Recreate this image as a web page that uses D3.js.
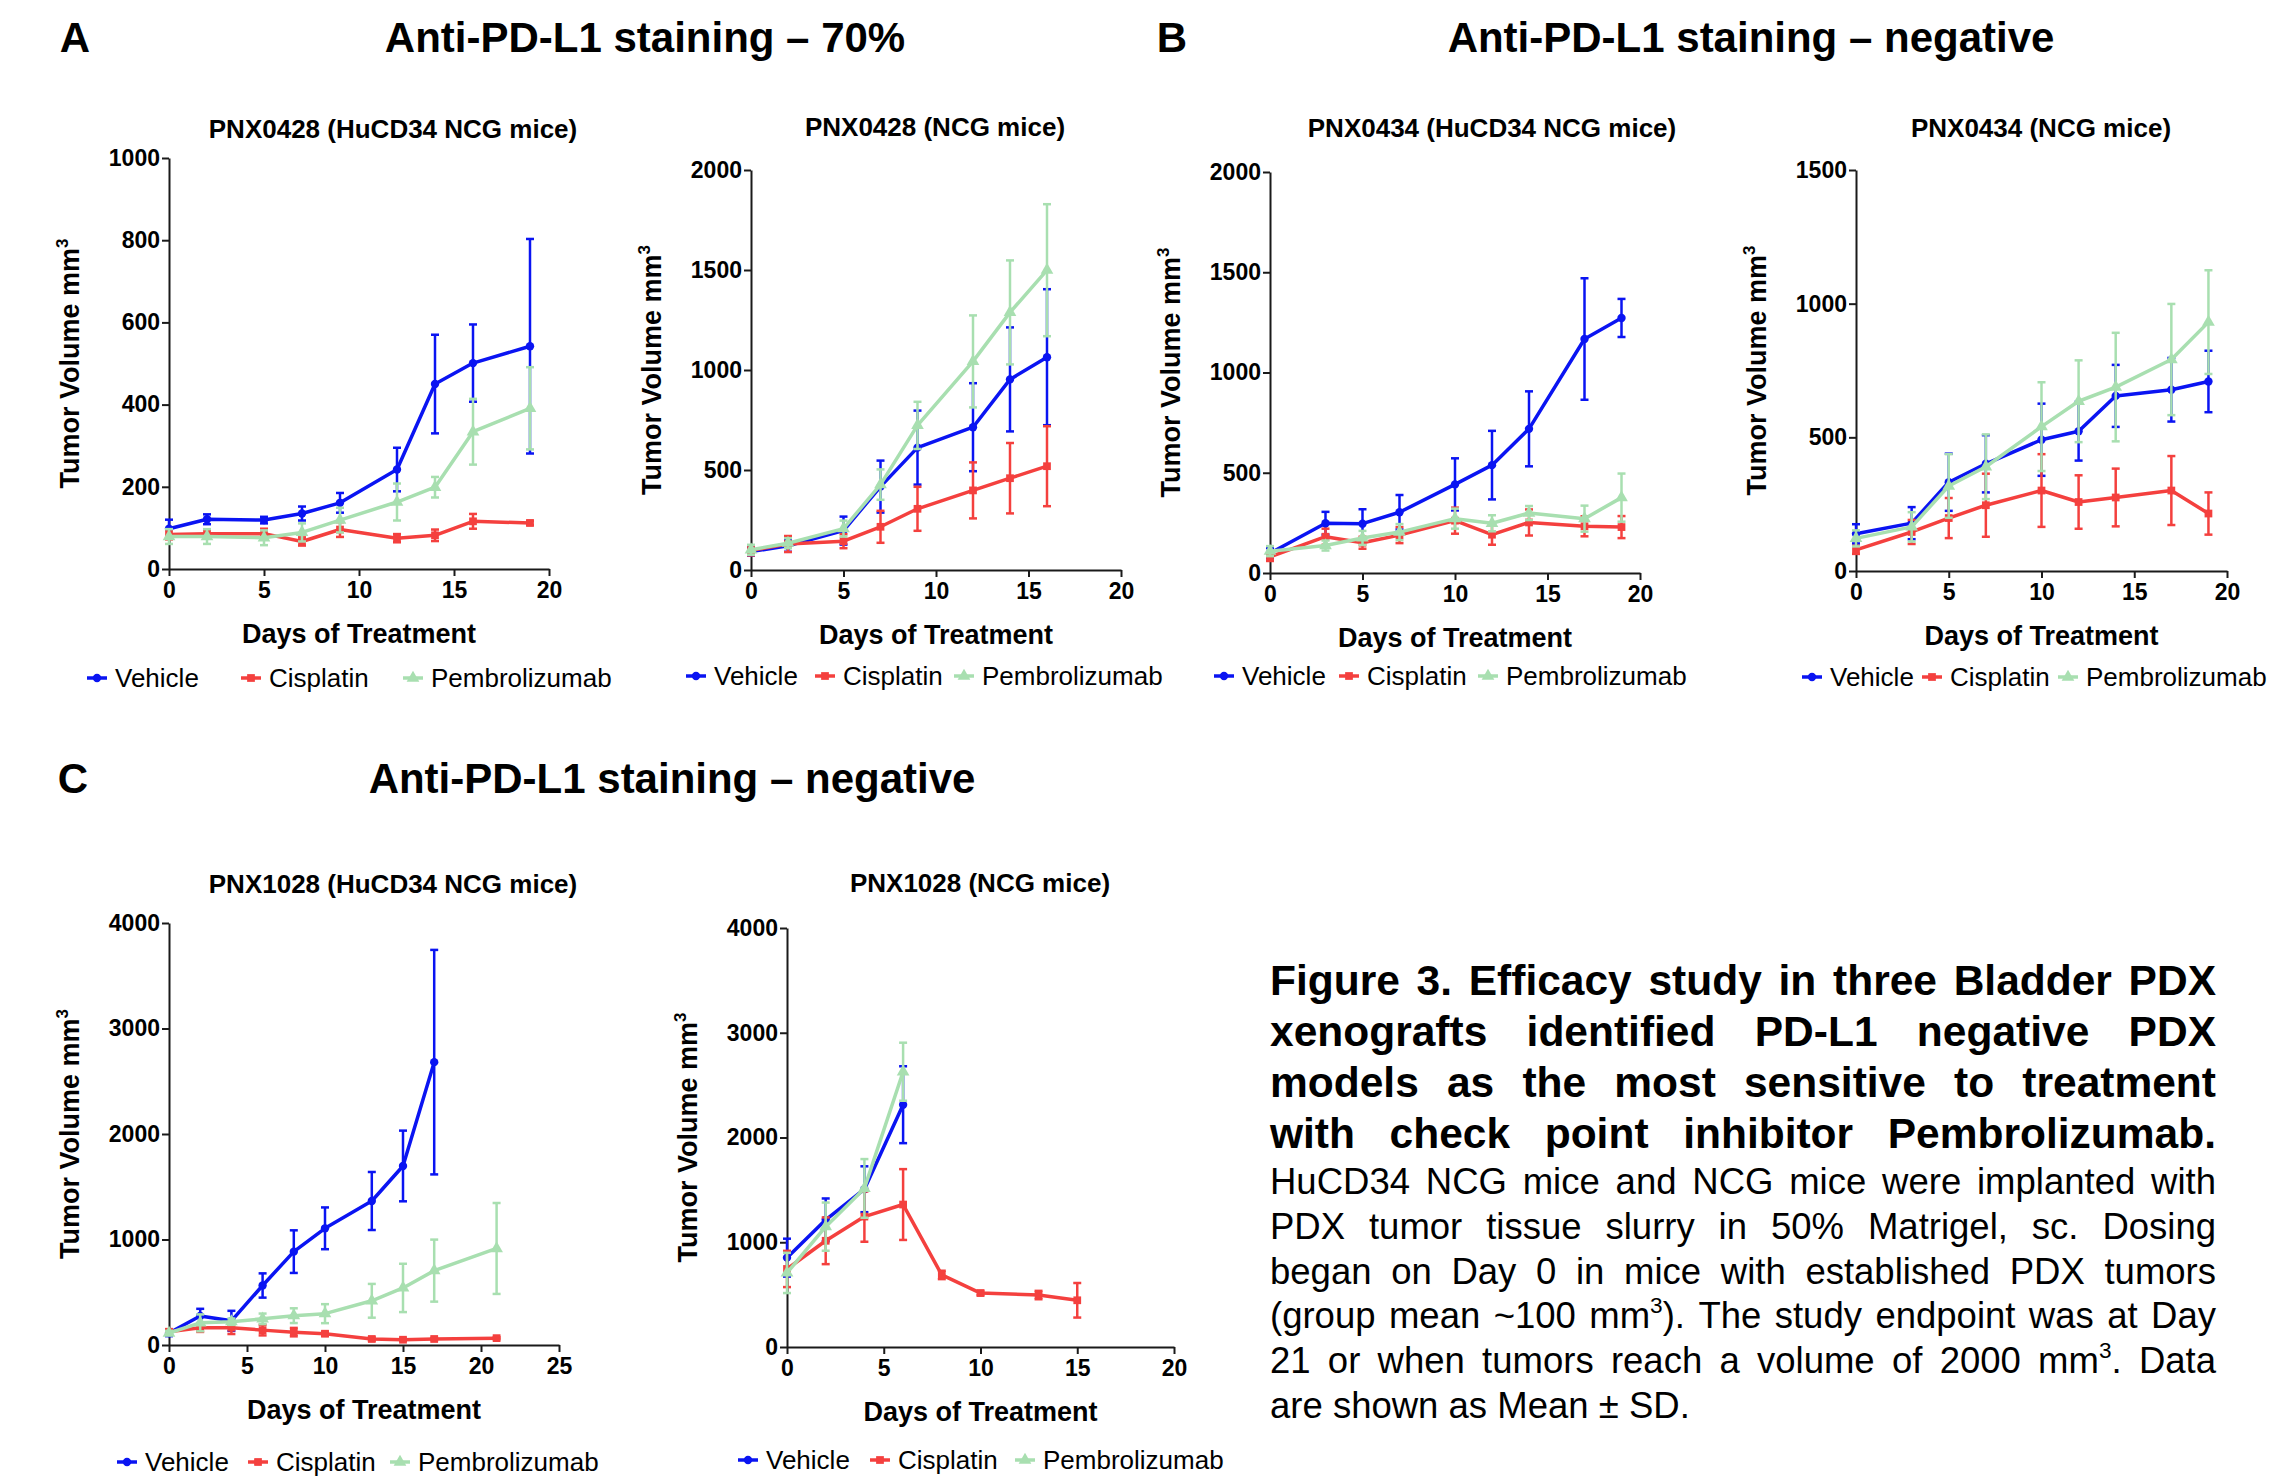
<!DOCTYPE html>
<html>
<head>
<meta charset="utf-8">
<script src="https://cdn.jsdelivr.net/npm/d3@7"></script>
<style>
  body { margin: 0; background: #fff; }
  svg { display: block; font-family: "Liberation Sans", Arial, Helvetica, sans-serif; }
  .axis path, .axis line { stroke: #1a1a1a; stroke-width: 2; }
  .axis text { font-size: 23px; font-weight: bold; fill: #000; }
</style>
</head>
<body>
<div id="fig"></div>
<script>
// series names and colours
var seriesNames = ["Vehicle", "Cisplatin", "Pembrolizumab"];
var seriesColors = ["#0a14f2", "#f4403e", "#a8dfb0"];

// A - PNX0428 (HuCD34 NCG mice)
var a1Days = [0, 2, 5, 7, 9, 12, 14, 16, 19];
var a1VehMean = [98, 121, 119, 135, 161, 242, 450, 501, 542];
var a1VehSd = [22, 12, 8, 17, 24, 53, 120, 94, 261];
var a1CisMean = [84, 86, 86, 67, 96, 75, 82, 116, 112];
var a1CisSd = [12, 10, 12, 10, 18, 10, 14, 18, 5];
var a1PemMean = [79, 79, 76, 89, 119, 163, 199, 334, 391];
var a1PemSd = [18, 18, 18, 22, 30, 45, 25, 80, 100];

// A - PNX0428 (NCG mice)
var a2Days = [0, 2, 5, 7, 9, 12, 14, 16];
var a2VehMean = [92, 121, 197, 417, 612, 714, 953, 1064];
var a2VehSd = [20, 30, 70, 130, 185, 220, 260, 340];
var a2CisMean = [98, 130, 144, 216, 306, 398, 459, 519];
var a2CisSd = [25, 40, 35, 80, 110, 140, 176, 200];
var a2PemMean = [101, 134, 207, 427, 723, 1043, 1288, 1499];
var a2PemSd = [25, 25, 40, 76, 118, 230, 260, 330];

// B - PNX0434 (HuCD34 NCG mice)
var b1Days = [0, 3, 5, 7, 10, 12, 14, 17, 19];
var b1VehMean = [99, 248, 246, 303, 442, 538, 719, 1167, 1272];
var b1VehSd = [25, 57, 72, 86, 130, 171, 187, 303, 95];
var b1CisMean = [80, 181, 151, 189, 261, 191, 252, 233, 229];
var b1CisSd = [20, 40, 30, 40, 65, 50, 65, 50, 55];
var b1PemMean = [109, 137, 175, 204, 271, 248, 299, 271, 376];
var b1PemSd = [25, 25, 35, 40, 50, 40, 35, 65, 120];

// B - PNX0434 (NCG mice)
var b2Days = [0, 3, 5, 7, 10, 12, 14, 17, 19];
var b2VehMean = [139, 179, 332, 401, 491, 523, 655, 678, 709];
var b2VehSd = [36, 60, 107, 107, 135, 110, 116, 119, 115];
var b2CisMean = [79, 146, 198, 246, 301, 258, 275, 301, 215];
var b2CisSd = [15, 45, 75, 118, 136, 100, 108, 129, 79];
var b2PemMean = [122, 165, 318, 390, 540, 635, 688, 791, 931];
var b2PemSd = [30, 55, 119, 121, 166, 153, 203, 208, 194];

// C - PNX1028 (HuCD34 NCG mice)
var c1Days = [0, 2, 4, 6, 8, 10, 13, 15, 17, 21];
var c1VehMean = [114, 275, 229, 564, 885, 1106, 1365, 1697, 2681];
var c1VehSd = [30, 68, 95, 115, 202, 198, 275, 335, 1064];
var c1CisMean = [126, 164, 164, 141, 122, 107, 57, 50, 57, 65];
var c1CisSd = [20, 40, 60, 50, 40, 20, 15, 10, 10, 10];
var c1PemMean = [114, 210, 221, 248, 278, 297, 419, 541, 705, 915];
var c1PemSd = [20, 80, 30, 50, 70, 90, 160, 229, 294, 431];

// C - PNX1028 (NCG mice)
var c2Days = [0, 2, 4, 6, 8, 10, 13, 15];
var c2VehMean = [853, 1214, 1506, 2313];
var c2VehSd = [181, 204, 219, 367];
var c2CisMean = [745, 1014, 1245, 1360, 688, 515, 496, 446];
var c2CisSd = [173, 223, 240, 338, 40, 20, 40, 165];
var c2PemMean = [707, 1149, 1514, 2628];
var c2PemSd = [192, 230, 280, 277];

// headings and caption
var sectionLetters = ["A", "B", "C"];
var sectionTitles = ["Anti-PD-L1 staining \u2013 70%", "Anti-PD-L1 staining \u2013 negative", "Anti-PD-L1 staining \u2013 negative"];
var captionBold = [
  "Figure 3. Efficacy study in three Bladder PDX",
  "xenografts identified PD-L1 negative PDX",
  "models as the most sensitive to treatment",
  "with check point inhibitor Pembrolizumab."
];
var captionRegular = [
  "HuCD34 NCG mice and NCG mice were implanted with",
  "PDX tumor tissue slurry in 50% Matrigel, sc. Dosing",
  "began on Day 0 in mice with established PDX tumors",
  "(group mean ~100 mm^3). The study endpoint was at Day",
  "21 or when tumors reach a volume of 2000 mm^3. Data",
  "are shown as Mean \u00b1 SD."
];

var width = 2273, height = 1481;

var svg = d3.select("#fig").append("svg")
  .attr("width", width)
  .attr("height", height);

// panel settings (layout only)
var panels = [
  {title: "PNX0428 (HuCD34 NCG mice)", xMax: 20, yMax: 1000, yStep: 200,
   box: {left: 169, right: 549, top: 158, bottom: 569}, titleX: 393, titleY: 138,
   legendX: [87, 241, 403], legendY: 678,
   series: [[a1Days, a1VehMean, a1VehSd], [a1Days, a1CisMean, a1CisSd], [a1Days, a1PemMean, a1PemSd]]},
  {title: "PNX0428 (NCG mice)", xMax: 20, yMax: 2000, yStep: 500,
   box: {left: 751, right: 1121, top: 170, bottom: 570}, titleX: 935, titleY: 136,
   legendX: [686, 815, 954], legendY: 676,
   series: [[a2Days, a2VehMean, a2VehSd], [a2Days, a2CisMean, a2CisSd], [a2Days, a2PemMean, a2PemSd]]},
  {title: "PNX0434 (HuCD34 NCG mice)", xMax: 20, yMax: 2000, yStep: 500,
   box: {left: 1270, right: 1640, top: 172, bottom: 573}, titleX: 1492, titleY: 137,
   legendX: [1214, 1339, 1478], legendY: 676,
   series: [[b1Days, b1VehMean, b1VehSd], [b1Days, b1CisMean, b1CisSd], [b1Days, b1PemMean, b1PemSd]]},
  {title: "PNX0434 (NCG mice)", xMax: 20, yMax: 1500, yStep: 500,
   box: {left: 1856, right: 2227, top: 170, bottom: 571}, titleX: 2041, titleY: 137,
   legendX: [1802, 1922, 2058], legendY: 677,
   series: [[b2Days, b2VehMean, b2VehSd], [b2Days, b2CisMean, b2CisSd], [b2Days, b2PemMean, b2PemSd]]},
  {title: "PNX1028 (HuCD34 NCG mice)", xMax: 25, yMax: 4000, yStep: 1000,
   box: {left: 169, right: 559, top: 923, bottom: 1345}, titleX: 393, titleY: 893,
   legendX: [117, 248, 390], legendY: 1462,
   series: [[c1Days, c1VehMean, c1VehSd], [c1Days, c1CisMean, c1CisSd], [c1Days, c1PemMean, c1PemSd]]},
  {title: "PNX1028 (NCG mice)", xMax: 20, yMax: 4000, yStep: 1000,
   box: {left: 787, right: 1174, top: 928, bottom: 1347}, titleX: 980, titleY: 892,
   legendX: [738, 870, 1015], legendY: 1460,
   series: [[c2Days, c2VehMean, c2VehSd], [c2Days, c2CisMean, c2CisSd], [c2Days, c2PemMean, c2PemSd]]}
];

// marker shapes: circle, square, triangle
var symbolTypes = [d3.symbolCircle, d3.symbolSquare, d3.symbolTriangle];
var symbolSizes = [55, 60, 70];

function drawMarker(g, i, cx, cy) {
  g.append("path")
    .attr("d", d3.symbol().type(symbolTypes[i]).size(symbolSizes[i])())
    .attr("transform", "translate(" + cx + "," + cy + ")")
    .attr("fill", seriesColors[i]);
}

panels.forEach(function(p) {
  var b = p.box;
  var x = d3.scaleLinear().domain([0, p.xMax]).range([b.left, b.right]);
  var y = d3.scaleLinear().domain([0, p.yMax]).range([b.bottom, b.top]);
  var g = svg.append("g");

  // axes
  g.append("g")
    .attr("class", "axis")
    .attr("transform", "translate(0," + b.bottom + ")")
    .call(d3.axisBottom(x).tickValues(d3.range(0, p.xMax + 1, 5)).tickFormat(d3.format("d"))
      .tickSize(7).tickSizeOuter(0).tickPadding(6));

  g.append("g")
    .attr("class", "axis")
    .attr("transform", "translate(" + b.left + ",0)")
    .call(d3.axisLeft(y).tickValues(d3.range(0, p.yMax + 1, p.yStep)).tickFormat(d3.format("d"))
      .tickSize(7).tickSizeOuter(0).tickPadding(2));

  // titles
  g.append("text")
    .attr("x", p.titleX).attr("y", p.titleY)
    .attr("text-anchor", "middle")
    .style("font-size", "26px").style("font-weight", "bold")
    .text(p.title);

  g.append("text")
    .attr("x", (b.left + b.right) / 2).attr("y", b.bottom + 74)
    .attr("text-anchor", "middle")
    .style("font-size", "27px").style("font-weight", "bold")
    .text("Days of Treatment");

  var yt = g.append("text")
    .attr("transform", "translate(" + (b.left - 90) + "," + ((b.top + b.bottom) / 2) + ") rotate(-90)")
    .attr("text-anchor", "middle")
    .style("font-size", "27px").style("font-weight", "bold");
  yt.append("tspan").text("Tumor Volume mm");
  yt.append("tspan").attr("dy", -11).style("font-size", "17px").text("3");

  // data series
  p.series.forEach(function(s, i) {
    var pts = s[1].map(function(m, k) { return {day: s[0][k], mean: m, sd: s[2][k]}; });
    var col = seriesColors[i];
    var sg = g.append("g");

    // error bars
    pts.forEach(function(d) {
      var cx = x(d.day);
      var yHi = y(d.mean + d.sd), yLo = y(Math.max(0, d.mean - d.sd));
      sg.append("line").attr("x1", cx).attr("x2", cx).attr("y1", yHi).attr("y2", yLo)
        .attr("stroke", col).attr("stroke-width", 2.5);
      [yHi, yLo].forEach(function(yy) {
        sg.append("line").attr("x1", cx - 4).attr("x2", cx + 4).attr("y1", yy).attr("y2", yy)
          .attr("stroke", col).attr("stroke-width", 2.5);
      });
    });

    var line = d3.line()
      .x(function(d) { return x(d.day); })
      .y(function(d) { return y(d.mean); });

    sg.append("path")
      .datum(pts)
      .attr("d", line)
      .attr("fill", "none")
      .attr("stroke", col)
      .attr("stroke-width", 3.5)
      .attr("stroke-linejoin", "round");

    pts.forEach(function(d) { drawMarker(sg, i, x(d.day), y(d.mean)); });
  });

  // legend
  seriesNames.forEach(function(name, i) {
    var lx = p.legendX[i], ly = p.legendY;
    g.append("line").attr("x1", lx).attr("x2", lx + 20).attr("y1", ly).attr("y2", ly)
      .attr("stroke", seriesColors[i]).attr("stroke-width", 3.5);
    drawMarker(g, i, lx + 10, ly);
    g.append("text")
      .attr("x", lx + 28).attr("y", ly + 9)
      .style("font-size", "26px")
      .text(name);
  });
});

// section headings
var headX = [75, 1172, 73], headY = [52, 52, 793];
var headTitleX = [645, 1751, 672];
sectionLetters.forEach(function(l, i) {
  svg.append("text").attr("x", headX[i]).attr("y", headY[i]).attr("text-anchor", "middle")
    .style("font-size", "42px").style("font-weight", "bold").text(l);
  svg.append("text").attr("x", headTitleX[i]).attr("y", headY[i]).attr("text-anchor", "middle")
    .style("font-size", "42px").style("font-weight", "bold").text(sectionTitles[i]);
});

// caption, justified line by line
var capLeft = 1270, capRight = 2216;

function addWord(parent, word, size, weight) {
  var t = parent.append("text").style("font-size", size + "px").style("font-weight", weight);
  var parts = word.split("^");
  t.append("tspan").text(parts[0]);
  parts.slice(1).forEach(function(part) {
    t.append("tspan").attr("dy", -size * 0.42).style("font-size", (size * 0.62) + "px").text(part.charAt(0));
    t.append("tspan").attr("dy", size * 0.42).text(part.slice(1));
  });
  return t;
}

function drawCaptionLine(str, baseline, size, weight, justify) {
  var g = svg.append("g");
  var words = str.split(" ");
  var nodes = words.map(function(w) { return addWord(g, w, size, weight); });
  var widths = nodes.map(function(n) { return n.node().getComputedTextLength(); });
  var total = d3.sum(widths);
  var gap = justify ? (capRight - capLeft - total) / (words.length - 1) : size * 0.278;
  var cx = capLeft;
  nodes.forEach(function(n, k) {
    n.attr("x", cx).attr("y", baseline);
    n.selectAll("tspan").filter(function(d, j) { return j === 0; }).attr("x", cx);
    cx += widths[k] + gap;
  });
}

captionBold.forEach(function(s, i) {
  drawCaptionLine(s, 995 + i * 51, 42.5, "bold", true);
});
captionRegular.forEach(function(s, i) {
  drawCaptionLine(s, 1194 + i * 44.8, 36.5, "normal", i < captionRegular.length - 1);
});
</script>
</body>
</html>
